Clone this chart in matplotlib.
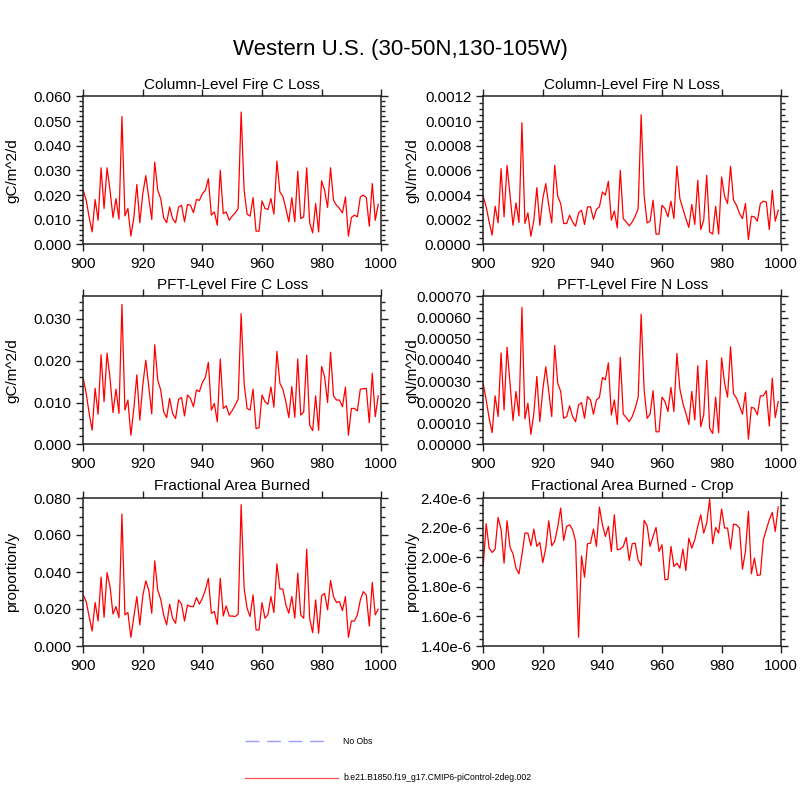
import numpy as np
import matplotlib.pyplot as plt
from matplotlib.ticker import MultipleLocator, FixedLocator
from matplotlib.lines import Line2D

plt.rcParams['font.family'] = ['Liberation Sans', 'DejaVu Sans']

# annees du modele
years = np.arange(900, 1000)

# Column-Level Fire C Loss (gC/m^2/d)
col_c_loss = np.array([
    .0220, .0180, .0110, .0051, .0182, .0098, .0311, .0146, .0311, .0220,
    .0109, .0186, .0102, .0519, .0116, .0146, .0034, .0110, .0243, .0088,
    .0206, .0279, .0190, .0101, .0334, .0220, .0186, .0109, .0088, .0152,
    .0105, .0088, .0152, .0159, .0092, .0162, .0159, .0129, .0182, .0179,
    .0206, .0220, .0267, .0119, .0132, .0078, .0301, .0125, .0132, .0098,
    .0115, .0128, .0146, .0537, .0220, .0123, .0115, .0190, .0054, .0054,
    .0177, .0146, .0142, .0186, .0123, .0338, .0213, .0195, .0146, .0092,
    .0190, .0092, .0297, .0105, .0112, .0311, .0088, .0047, .0166, .0051,
    .0258, .0220, .0150, .0311, .0179, .0159, .0146, .0128, .0193, .0034,
    .0109, .0119, .0112, .0193, .0200, .0190, .0074, .0247, .0098, .0163])

# Column-Level Fire N Loss (1e-4 gN/m^2/d)
col_n_loss = np.array([
    3.91, 3.05, 1.83, 0.76, 3.10, 1.75, 6.15, 2.24, 6.42, 4.00,
    1.56, 3.37, 1.78, 9.87, 1.70, 2.56, 0.67, 1.97, 4.61, 1.56,
    3.72, 4.93, 3.18, 1.75, 6.42, 3.91, 3.32, 1.70, 1.70, 2.37,
    1.83, 1.48, 2.56, 2.78, 1.62, 3.05, 3.05, 2.05, 2.86, 3.05,
    4.26, 4.00, 5.12, 1.97, 2.72, 1.35, 6.01, 2.10, 1.83, 1.51,
    1.83, 2.29, 2.91, 10.52, 4.00, 1.75, 1.89, 3.59, 0.84, 0.84,
    3.18, 2.91, 2.24, 3.51, 2.10, 6.36, 3.72, 2.91, 2.10, 1.38,
    3.24, 1.62, 5.20, 1.21, 1.97, 5.61, 1.02, 0.84, 3.10, 0.84,
    5.47, 3.91, 3.32, 6.34, 3.59, 3.18, 2.51, 2.10, 3.32, 0.40,
    2.29, 2.24, 1.89, 3.32, 3.51, 3.45, 1.21, 4.40, 1.89, 2.78]) * 1e-4

# PFT-Level Fire C Loss (1e-3 gC/m^2/d)
pft_c_loss = np.array([
    15.8, 12.2, 7.4, 3.4, 13.4, 7.2, 21.4, 10.2, 21.8, 15.8,
    7.6, 13.2, 7.4, 33.4, 8.2, 10.6, 2.2, 8.6, 16.6, 5.8,
    14.2, 20.1, 13.8, 7.3, 23.8, 15.4, 13.0, 7.8, 6.4, 11.0,
    7.4, 6.2, 10.8, 11.2, 6.8, 11.8, 11.0, 9.0, 13.0, 12.6,
    14.8, 16.0, 19.6, 8.2, 9.8, 5.4, 20.4, 8.6, 9.2, 7.0,
    8.1, 9.4, 10.8, 31.2, 14.6, 8.6, 8.2, 13.2, 3.8, 4.0,
    11.8, 10.2, 9.6, 13.7, 8.9, 22.2, 14.6, 13.2, 10.2, 6.4,
    13.8, 6.5, 20.4, 7.0, 7.8, 21.3, 4.6, 3.3, 11.6, 3.4,
    18.6, 16.2, 10.0, 22.0, 11.6, 10.6, 10.6, 9.0, 13.7, 2.2,
    8.6, 8.6, 8.0, 13.2, 13.3, 13.4, 5.2, 17.0, 6.6, 11.6]) * 1e-3

# PFT-Level Fire N Loss (1e-4 gN/m^2/d)
pft_n_loss = np.array([
    2.86, 2.11, 1.24, 0.56, 2.30, 1.32, 4.33, 1.63, 4.60, 2.90,
    1.13, 2.51, 1.35, 6.48, 1.21, 1.95, 0.48, 1.48, 3.22, 1.08,
    2.59, 3.67, 2.51, 1.32, 4.68, 2.90, 2.51, 1.24, 1.32, 1.83,
    1.32, 1.08, 1.87, 1.98, 1.24, 2.27, 2.11, 1.43, 2.11, 2.22,
    3.17, 3.06, 3.86, 1.40, 2.11, 0.95, 4.13, 1.44, 1.27, 1.08,
    1.32, 1.71, 2.24, 6.16, 2.59, 1.24, 1.44, 2.54, 0.60, 0.60,
    2.24, 2.03, 1.56, 2.70, 1.56, 4.30, 2.62, 1.95, 1.48, 0.95,
    2.51, 1.16, 3.73, 0.84, 1.40, 3.98, 0.76, 0.52, 2.24, 0.56,
    4.10, 2.90, 2.24, 4.62, 2.40, 2.19, 1.83, 1.43, 2.46, 0.25,
    1.76, 1.71, 1.40, 2.30, 2.30, 2.54, 0.87, 3.14, 1.27, 2.03]) * 1e-4

# Fractional Area Burned (1e-3 proportion/y)
area_burned = np.array([
    27.6, 24.0, 15.9, 8.1, 23.5, 13.5, 37.2, 15.5, 39.7, 32.1,
    17.3, 21.3, 15.3, 71.3, 16.8, 18.1, 4.7, 15.9, 26.7, 11.4,
    27.1, 35.2, 30.3, 17.7, 46.0, 30.3, 25.3, 16.8, 11.4, 22.6,
    15.0, 12.3, 24.9, 22.6, 13.5, 22.2, 21.3, 21.3, 26.2, 22.6,
    25.8, 30.3, 36.6, 17.7, 18.6, 11.7, 36.6, 16.2, 21.7, 16.2,
    16.2, 15.9, 17.3, 76.4, 31.2, 20.4, 15.9, 27.6, 8.7, 8.7,
    23.5, 15.0, 17.1, 26.7, 18.1, 44.4, 30.9, 30.7, 22.2, 17.7,
    26.7, 15.0, 39.4, 16.8, 15.0, 52.3, 15.0, 7.2, 24.9, 6.9,
    27.1, 28.5, 19.5, 35.4, 26.7, 23.5, 24.0, 19.1, 26.7, 4.7,
    13.5, 13.5, 16.8, 24.9, 29.4, 27.6, 10.8, 34.3, 16.8, 19.9]) * 1e-3

# Fractional Area Burned - Crop (1e-6 proportion/y)
crop_burned = np.array([
    1.937, 2.226, 2.061, 2.032, 2.055, 2.269, 2.186, 1.960, 2.246, 2.068,
    2.023, 1.926, 1.888, 2.016, 2.163, 2.163, 2.077, 2.190, 2.073, 2.100,
    1.964, 2.061, 2.246, 2.077, 2.107, 2.204, 2.332, 2.113, 2.208, 2.219,
    2.186, 2.107, 1.459, 2.009, 1.865, 2.091, 2.095, 2.190, 2.073, 2.339,
    2.219, 2.140, 2.208, 2.039, 2.287, 2.050, 2.055, 2.073, 2.134, 1.978,
    2.091, 2.095, 1.980, 1.942, 2.249, 2.213, 2.073, 2.140, 2.201, 2.039,
    2.084, 1.847, 1.851, 2.073, 1.937, 1.960, 1.926, 2.055, 1.910, 2.129,
    2.061, 2.118, 2.208, 2.287, 2.163, 2.231, 2.393, 2.091, 2.201, 2.163,
    2.326, 2.197, 2.197, 2.055, 2.224, 2.219, 2.197, 1.919, 2.039, 2.310,
    1.888, 1.994, 1.876, 1.881, 2.118, 2.186, 2.253, 2.303, 2.174, 2.339]) * 1e-6

titles = ['Column-Level Fire C Loss', 'Column-Level Fire N Loss',
          'PFT-Level Fire C Loss', 'PFT-Level Fire N Loss',
          'Fractional Area Burned', 'Fractional Area Burned - Crop']
unites = ['gC/m^2/d', 'gN/m^2/d', 'gC/m^2/d', 'gN/m^2/d',
          'proportion/y', 'proportion/y']
series = [col_c_loss, col_n_loss, pft_c_loss, pft_n_loss, area_burned, crop_burned]

# limites, pas majeur, pas mineur, format des etiquettes
ylims = [(0, 0.060), (0, 0.0012), (0, 0.0353), (0, 0.0007), (0, 0.080), (1.4e-6, 2.4e-6)]
ymajor = [0.010, 0.0002, 0.010, 0.0001, 0.020, 0.2e-6]
yminor = [0.002, 0.00005, 0.002, 0.0001 / 3, 0.005, 0.05e-6]
yfmt = ['%.3f', '%.4f', '%.3f', '%.5f', '%.3f', None]

fig = plt.figure(figsize=(8, 8), dpi=100)

# positions des panneaux (gauche, bas)
lefts = [0.104, 0.604]
bottoms = [0.6944, 0.4444, 0.1925]
w, h = 0.3725, 0.185

for i in range(6):
    ax = fig.add_axes([lefts[i % 2], bottoms[i // 2], w, h])
    ax.plot(years, series[i], color='red', lw=0.9)

    ax.set_xlim(900, 1000)
    ax.set_ylim(*ylims[i])
    ax.set_xticks([900, 920, 940, 960, 980, 1000])

    lo, hi = ylims[i]
    ticks = np.arange(lo, hi + ymajor[i] * 0.01, ymajor[i])
    ticks = ticks[ticks <= hi + 1e-12]
    ax.yaxis.set_major_locator(FixedLocator(ticks))
    if yfmt[i] is None:
        ax.set_yticklabels(['%.2fe-6' % (t * 1e6) for t in ticks])
    else:
        ax.set_yticklabels([yfmt[i] % t for t in ticks])
    ax.yaxis.set_minor_locator(MultipleLocator(yminor[i]))

    ax.tick_params(which='both', direction='out', top=True, right=True,
                   labelsize=10.8, width=1, color='#222222')
    ax.tick_params(which='major', length=5, pad=3.5)
    ax.tick_params(axis='x', which='major', pad=4)
    ax.tick_params(which='minor', length=2.6)
    for s in ax.spines.values():
        s.set_linewidth(1.1)
        s.set_color('#222222')

    ax.set_ylabel(unites[i], fontsize=11)
    ax.yaxis.set_label_coords(-0.215, 0.5)
    ax.annotate(titles[i], xy=(0.5, 1.0), xycoords='axes fraction',
                xytext=(0, 5.5), textcoords='offset points',
                ha='center', va='baseline', fontsize=11)

fig.text(0.5, 1 - 50 / 800, 'Western U.S. (30-50N,130-105W)', ha='center',
         va='center', fontsize=16)

# legende en bas
fig.add_artist(Line2D([245 / 800, 330 / 800], [1 - 741 / 800] * 2, color='#9d9dff',
                      lw=1.0, dashes=(10, 5.5)))
fig.text(343 / 800, 1 - 741 / 800, 'No Obs', fontsize=6.2, va='center')
fig.add_artist(Line2D([245 / 800, 338 / 800], [1 - 778 / 800] * 2, color='#ff5050', lw=0.9))
fig.text(343 / 800, 1 - 778 / 800, 'b.e21.B1850.f19_g17.CMIP6-piControl-2deg.002',
         fontsize=6.2, va='center')

plt.savefig('out.png', dpi=100)
